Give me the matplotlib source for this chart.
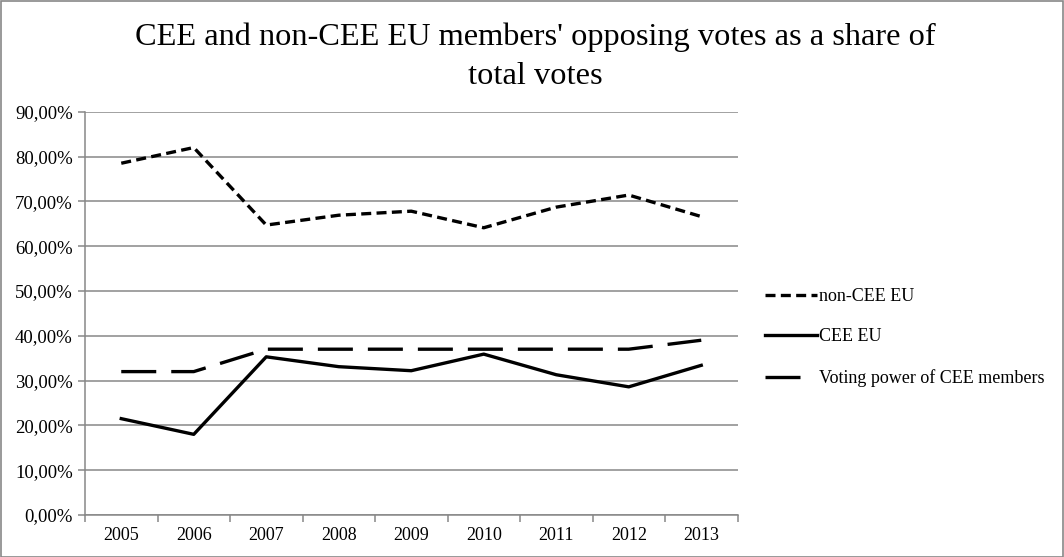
import matplotlib
matplotlib.use("Agg")
import matplotlib.pyplot as plt
from matplotlib.patches import Rectangle
from matplotlib.lines import Line2D
from matplotlib.ticker import FuncFormatter, FixedLocator

plt.rcParams['font.family'] = ['Liberation Serif', 'DejaVu Serif']

years = ['2005', '2006', '2007', '2008', '2009', '2010', '2011', '2012', '2013']
non_cee = [78.5, 82.0, 64.7, 66.9, 67.8, 64.1, 68.7, 71.4, 66.6]
cee = [21.5, 18.0, 35.3, 33.1, 32.2, 35.9, 31.3, 28.6, 33.4]
voting_power = [32.0, 32.0, 37.0, 37.0, 37.0, 37.0, 37.0, 37.0, 39.0]

grid_col = '#878787'
W, H = 1064, 557

fig = plt.figure(figsize=(W / 100, H / 100), dpi=100)
ax = fig.add_axes([85 / W, 42 / H, 652.5 / W, 403.3 / H])

x = range(len(years))
ax.plot(x, non_cee, color='black', lw=2.4, dashes=(3, 1.6))
ax.plot(x, cee, color='black', lw=2.4)
ax.plot(x, voting_power, color='black', lw=2.4, dashes=(10.5, 4.5))

ax.set_xlim(-0.5, len(years) - 0.5)
ax.set_ylim(0, 90)
ax.set_yticks(range(0, 91, 10))
ax.yaxis.set_major_formatter(FuncFormatter(lambda v, p: f'{v:.2f}%'.replace('.', ',')))
ax.set_xticks(list(x))
ax.set_xticklabels(years)
ax.xaxis.set_minor_locator(FixedLocator([i - 0.5 for i in range(len(years) + 1)]))

ax.grid(axis='y', color=grid_col, lw=1.1)
ax.set_axisbelow(True)
for s in ['top', 'right']:
    ax.spines[s].set_visible(False)
for s in ['left', 'bottom']:
    ax.spines[s].set_color(grid_col)
    ax.spines[s].set_linewidth(1.1)

ax.tick_params(axis='y', length=5, width=1.1, color=grid_col, pad=3.8, labelsize=13.5)
ax.tick_params(axis='x', which='major', length=0, pad=9, labelsize=13)
ax.tick_params(axis='x', which='minor', length=5, width=1.1, color=grid_col)

fig.text(535 / W, 1 - 23 / H, "CEE and non-CEE EU members' opposing votes as a share of\ntotal votes",
         ha='center', va='top', fontsize=23.3, linespacing=1.45)

# legend handles (voting power handle shows one long dash, as in the original)
handles = [
    Line2D([], [], color='black', lw=2.4, dashes=(3, 1.6)),
    Line2D([], [], color='black', lw=2.4),
    Line2D([], [], color='black', lw=2.4, dashes=(10.5, 30)),
]
labels = ['non-CEE EU', 'CEE EU', 'Voting power of CEE members']
fig.legend(handles, labels, loc='upper left', bbox_to_anchor=(765 / W, 1 - 288 / H), frameon=False,
           fontsize=13, handlelength=2.9, handletextpad=0.1, labelspacing=1.3,
           borderpad=0, borderaxespad=0)

fig.add_artist(Rectangle((0.5 / W, 0.5 / H), 1 - 1.5 / W, 1 - 1.5 / H, transform=fig.transFigure,
                         fill=False, edgecolor=grid_col, lw=1.2))

fig.savefig('out.png', dpi=100)
